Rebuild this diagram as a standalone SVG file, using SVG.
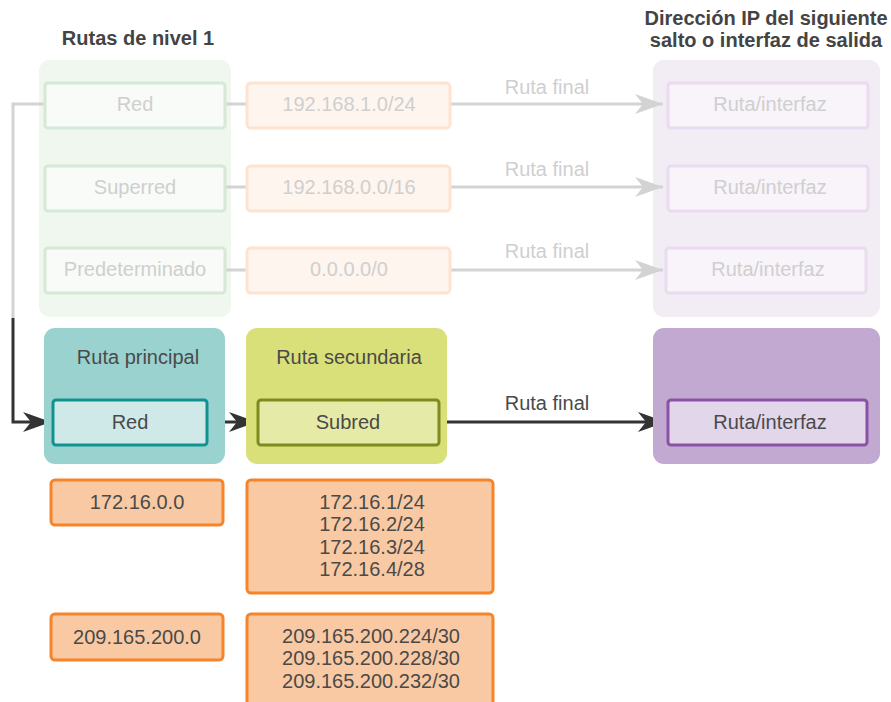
<svg xmlns="http://www.w3.org/2000/svg" width="891" height="702" viewBox="0 0 891 702">
<style>
text{font-family:"Liberation Sans",Arial,sans-serif;font-size:20px;text-anchor:middle}
.title{font-weight:bold;fill:#444}
.dk{fill:#4a4a4a}
.fd{fill:#cfcfcf}
.fgb{fill:#f8fbf7;stroke:#d6e9d6;stroke-width:3}
.fob{fill:#fef5ee;stroke:#fde3d0;stroke-width:3}
.fpb{fill:#f8f4f9;stroke:#eadcf0;stroke-width:3}
.ob{fill:#f9c9a3;stroke:#f5842a;stroke-width:3}
.fl{fill:none;stroke:#d3d3d3;stroke-width:3}
.dl{fill:none;stroke:#333;stroke-width:3}
</style>
<defs>
<marker id="ag" markerUnits="userSpaceOnUse" viewBox="-29 -11 30 22" refX="0" refY="0" markerWidth="30" markerHeight="22" orient="auto"><path d="M0,0 L-28,-10 L-20,0 L-28,10 Z" fill="#d3d3d3"/></marker>
<marker id="ad" markerUnits="userSpaceOnUse" viewBox="-29 -11 30 22" refX="0" refY="0" markerWidth="30" markerHeight="22" orient="auto"><path d="M0,0 L-28,-10 L-20,0 L-28,10 Z" fill="#333"/></marker>
</defs>
<rect width="891" height="702" fill="#fff"/>
<text class="title" x="138" y="45" font-size="19.5">Rutas de nivel 1</text>
<text class="title" x="766" y="25" font-size="20.5">Dirección IP del siguiente</text>
<text class="title" x="766" y="47" font-size="20.5">salto o interfaz de salida</text>
<g id="panel-nivel1"><rect x="39" y="60" width="192" height="257" rx="11" fill="#eff7ef"/></g>
<g id="panel-destino-faded"><rect x="653" y="60" width="227" height="257" rx="11" fill="#f2ecf5"/></g>
<g id="connectors">
<path class="fl" d="M45,104 H13 V318"/>
<path class="dl" d="M13,318 V422 H51" marker-end="url(#ad)"/>
<path class="fl" d="M225,104 H247"/>
<path class="fl" d="M225,187 H247"/>
<path class="fl" d="M225,270 H247"/>
<path class="fl" d="M450,104 H663" marker-end="url(#ag)"/>
<path class="fl" d="M450,187 H663" marker-end="url(#ag)"/>
<path class="fl" d="M450,270 H663" marker-end="url(#ag)"/>
<path class="dl" d="M207,422 H257" marker-end="url(#ad)"/>
<path class="dl" d="M439,422 H666" marker-end="url(#ad)"/>
<text class="fd" x="547" y="94">Ruta final</text>
<text class="fd" x="547" y="176">Ruta final</text>
<text class="fd" x="547" y="258">Ruta final</text>
<text class="dk" x="547" y="410">Ruta final</text>
</g>
<g id="n-red-faded"><rect class="fgb" x="45" y="83" width="180" height="45" rx="3"/><text class="fd" x="135" y="111">Red</text></g>
<g id="n-superred-faded"><rect class="fgb" x="45" y="166" width="180" height="45" rx="3"/><text class="fd" x="135" y="194">Superred</text></g>
<g id="n-predet-faded"><rect class="fgb" x="45" y="248" width="180" height="45" rx="3"/><text class="fd" x="135" y="276">Predeterminado</text></g>
<g id="n-ip1-faded"><rect class="fob" x="247" y="83" width="203" height="45" rx="4"/><text class="fd" x="349" y="111">192.168.1.0/24</text></g>
<g id="n-ip2-faded"><rect class="fob" x="247" y="166" width="203" height="45" rx="4"/><text class="fd" x="349" y="194">192.168.0.0/16</text></g>
<g id="n-ip3-faded"><rect class="fob" x="247" y="248" width="203" height="45" rx="4"/><text class="fd" x="349" y="276">0.0.0.0/0</text></g>
<g id="n-ri1-faded"><rect class="fpb" x="668" y="83" width="200" height="45" rx="3"/><text class="fd" x="770" y="111">Ruta/interfaz</text></g>
<g id="n-ri2-faded"><rect class="fpb" x="668" y="166" width="200" height="45" rx="3"/><text class="fd" x="770" y="194">Ruta/interfaz</text></g>
<g id="n-ri3-faded"><rect class="fpb" x="666" y="248" width="200" height="45" rx="3"/><text class="fd" x="768" y="276">Ruta/interfaz</text></g>
<g id="n-ruta-principal">
<rect x="44" y="328" width="181" height="136" rx="11" fill="#9ad2cf"/>
<text class="dk" x="138" y="364">Ruta principal</text>
<rect x="53" y="400" width="154" height="45" rx="3" fill="#cfe9e8" stroke="#12928f" stroke-width="3"/>
<text class="dk" x="130" y="429">Red</text>
</g>
<g id="n-ruta-secundaria">
<rect x="246" y="328" width="201" height="136" rx="11" fill="#d9e07a"/>
<text class="dk" x="349" y="364">Ruta secundaria</text>
<rect x="258" y="400" width="181" height="45" rx="3" fill="#e5eba6" stroke="#7f8a1f" stroke-width="3"/>
<text class="dk" x="348" y="429">Subred</text>
</g>
<g id="n-destino">
<rect x="653" y="328" width="227" height="136" rx="11" fill="#c1a9d1"/>
<rect x="668" y="400" width="199" height="45" rx="3" fill="#e2d6ea" stroke="#8a52a5" stroke-width="3"/>
<text class="dk" x="770" y="429">Ruta/interfaz</text>
</g>
<g id="n-172-red"><rect class="ob" x="51" y="480" width="172" height="45" rx="4"/><text class="dk" x="137" y="509">172.16.0.0</text></g>
<g id="n-172-sub"><rect class="ob" x="247" y="480" width="246" height="113" rx="4"/>
<text class="dk" x="372" y="509">172.16.1/24</text>
<text class="dk" x="372" y="531">172.16.2/24</text>
<text class="dk" x="372" y="554">172.16.3/24</text>
<text class="dk" x="372" y="576">172.16.4/28</text>
</g>
<g id="n-209-red"><rect class="ob" x="51" y="614" width="172" height="46" rx="4"/><text class="dk" x="137" y="644">209.165.200.0</text></g>
<g id="n-209-sub"><rect class="ob" x="247" y="614" width="246" height="100" rx="4"/>
<text class="dk" x="371" y="643">209.165.200.224/30</text>
<text class="dk" x="371" y="665">209.165.200.228/30</text>
<text class="dk" x="371" y="688">209.165.200.232/30</text>
</g>
</svg>
